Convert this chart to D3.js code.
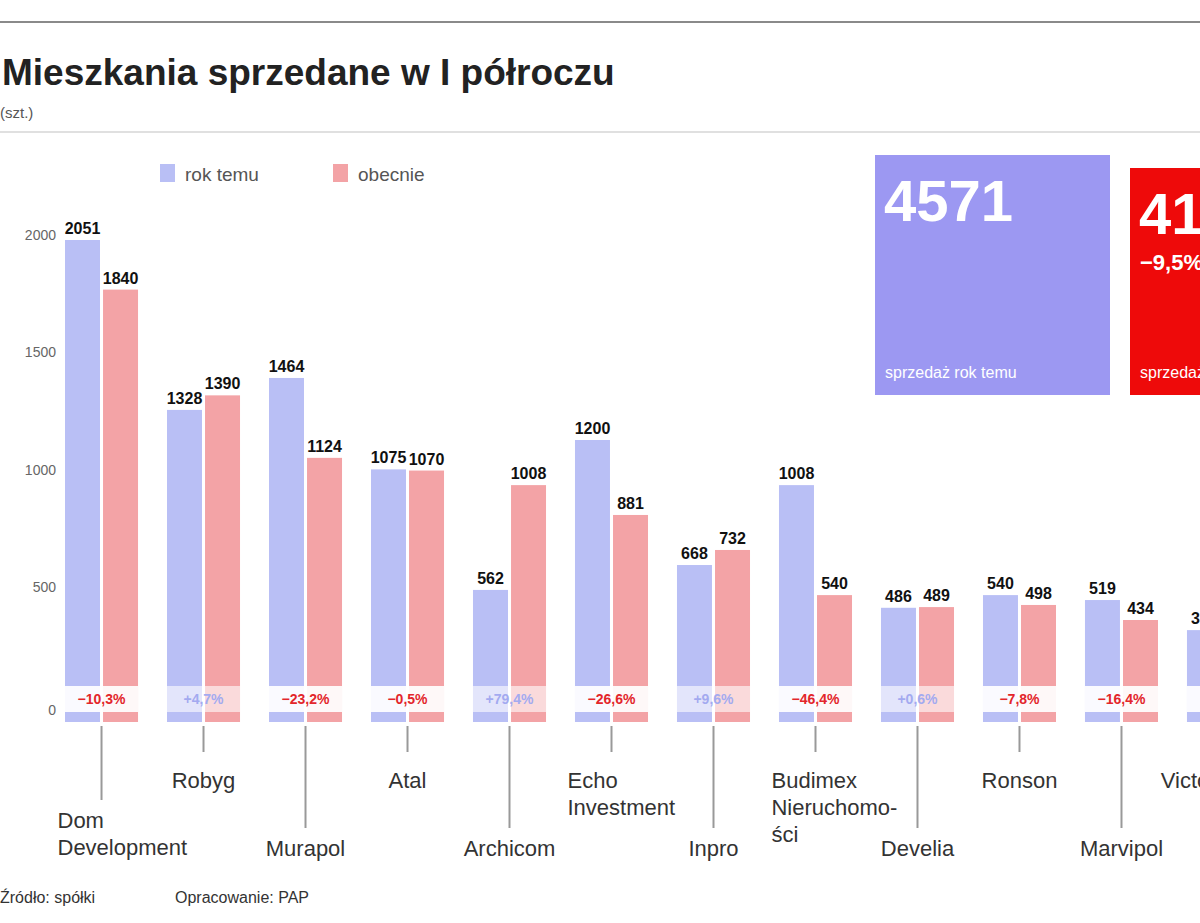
<!DOCTYPE html>
<html>
<head>
<meta charset="utf-8">
<script src="https://cdn.jsdelivr.net/npm/d3@7"></script>
<style>
  body { margin: 0; background: #fff; }
  svg { display: block; font-family: "Liberation Sans", Arial, sans-serif; }
</style>
</head>
<body>
<div id="chart-area"></div>
<script>
// developers, in the order shown (the last one is cut off by the picture edge)
const companies = [
  ["Dom", "Development"], ["Robyg"], ["Murapol"], ["Atal"], ["Archicom"],
  ["Echo", "Investment"], ["Inpro"], ["Budimex", "Nieruchomo-", "ści"],
  ["Develia"], ["Ronson"], ["Marvipol"], ["Victoria Dom"]
]
const names = companies.map(d => d.join(" "))

const seriesNames = ["rok temu", "obecnie"]
const prevYear = [2051, 1328, 1464, 1075, 562, 1200, 668, 1008, 486, 540, 519, 391]
const currYear = [1840, 1390, 1124, 1070, 1008, 881, 732, 540, 489, 498, 434, 380]

const yTicks = [0, 500, 1000, 1500, 2000]

const totals = [4571, 4138]
const totalLabels = ["sprzedaż rok temu", "sprzedaż obecnie"]

const WIDTH = 1200
const HEIGHT = 923
const BASE = 722
const COLORS = ["#b9bff5", "#f3a3a6"]

const svg = d3.select("#chart-area").append("svg")
  .attr("width", WIDTH)
  .attr("height", HEIGHT)

// header
svg.append("line")
  .attr("x1", 0).attr("x2", WIDTH).attr("y1", 22).attr("y2", 22)
  .attr("stroke", "#8a8a8a").attr("stroke-width", 2)

svg.append("text")
  .attr("x", 2).attr("y", 85)
  .attr("font-size", "37px").attr("font-weight", "bold").attr("fill", "#222")
  .text("Mieszkania sprzedane w I półroczu")

svg.append("text")
  .attr("x", 0).attr("y", 118)
  .attr("font-size", "15px").attr("fill", "#555")
  .text("(szt.)")

svg.append("line")
  .attr("x1", 0).attr("x2", WIDTH).attr("y1", 132).attr("y2", 132)
  .attr("stroke", "#d6d6d6").attr("stroke-width", 1.5)

// legend
const legend = svg.append("g")
seriesNames.forEach((s, i) => {
  const lx = [160, 333][i]
  legend.append("rect")
    .attr("x", lx).attr("y", 164).attr("width", 15).attr("height", 18)
    .attr("fill", COLORS[i])
  legend.append("text")
    .attr("x", lx + 25).attr("y", 181)
    .attr("font-size", "19px").attr("fill", "#555")
    .text(s)
})

// scales
const x = d3.scaleBand()
  .domain(names)
  .range([65, 1260])
  .paddingInner(0.284)
  .paddingOuter(0)

const x1 = d3.scaleBand()
  .domain(seriesNames)
  .range([0, x.bandwidth()])
  .paddingInner(0.08)

const y = d3.scaleLinear()
  .domain([0, 2000])
  .range([BASE, 252])

// grid + y labels
const yAxis = d3.axisLeft(y)
  .tickValues(yTicks)
  .tickSize(-WIDTH)
  .tickFormat(d => d)

const yAxisGroup = svg.append("g")
  .attr("transform", "translate(1200, 0)")
  .call(yAxis)
yAxisGroup.select(".domain").remove()
yAxisGroup.selectAll(".tick line")
  .attr("stroke", d => d === 0 ? "#aaa" : "#e0e0e0")
  .attr("stroke-width", 1.5)
yAxisGroup.selectAll(".tick text")
  .attr("x", -1200 + 56)
  .attr("dy", d => d === 0 ? "-0.55em" : "-0.9em")
  .attr("font-size", "14px")
  .attr("fill", "#666")

// bars
const rows = names.map((n, i) => ({ name: n, lines: companies[i], values: [prevYear[i], currYear[i]] }))

const groups = svg.append("g").selectAll("g")
  .data(rows)
  .enter().append("g")
  .attr("transform", d => `translate(${x(d.name)}, 0)`)

groups.selectAll("rect")
  .data(d => d.values.map((v, i) => ({ key: seriesNames[i], value: v, i })))
  .enter().append("rect")
  .attr("x", d => x1(d.key))
  .attr("y", d => y(d.value))
  .attr("width", x1.bandwidth())
  .attr("height", d => BASE - y(d.value))
  .attr("fill", d => COLORS[d.i])

groups.selectAll(".val")
  .data(d => d.values.map((v, i) => ({ key: seriesNames[i], value: v })))
  .enter().append("text")
  .attr("class", "val")
  .attr("x", d => x1(d.key) + x1.bandwidth() / 2)
  .attr("y", d => y(d.value) - 6)
  .attr("text-anchor", "middle")
  .attr("font-size", "16px")
  .attr("font-weight", "bold")
  .attr("fill", "#111")
  .attr("stroke", "#fff")
  .attr("stroke-width", 3)
  .attr("paint-order", "stroke")
  .text(d => d.value)

// change boxes at bottom of the bars
const fmtPct = v => (v > 0 ? "+" : "") + d3.format(".1f")(v).replace(".", ",") + "%"
groups.each(function (d) {
  const g = d3.select(this)
  const pct = (d.values[1] - d.values[0]) / d.values[0] * 100
  const down = pct < 0
  g.append("rect")
    .attr("x", 0).attr("y", BASE - 36)
    .attr("width", x.bandwidth()).attr("height", 26)
    .attr("fill", "#fff").attr("fill-opacity", down ? 0.92 : 0.6)
  g.append("text")
    .attr("x", x.bandwidth() / 2).attr("y", BASE - 18)
    .attr("text-anchor", "middle")
    .attr("font-size", "14px").attr("font-weight", "bold")
    .attr("fill", down ? "#e3262b" : "#a3aaf0")
    .text(fmtPct(pct))
})

// category labels with leader lines
rows.forEach((d, i) => {
  const cx = x(d.name) + x.bandwidth() / 2
  const low = i % 2 === 0
  const multi = d.lines.length > 1
  const firstY = low ? 856 - (d.lines.length - 1) * 28 : 788
  const lineEnd = low ? firstY - 28 : 752
  svg.append("line")
    .attr("x1", cx).attr("x2", cx)
    .attr("y1", BASE + 4).attr("y2", lineEnd)
    .attr("stroke", "#999").attr("stroke-width", 2)
  const t = svg.append("text")
    .attr("x", multi ? cx - 44 : cx)
    .attr("y", firstY)
    .attr("text-anchor", multi ? "start" : "middle")
    .attr("font-size", "22px")
    .attr("fill", "#333")
  d.lines.forEach((l, j) => {
    t.append("tspan")
      .attr("x", multi ? cx - 44 : cx)
      .attr("dy", j === 0 ? 0 : 27)
      .text(l)
  })
})

// totals boxes
const boxes = [
  { x: 875, y: 155, w: 235, h: 240, fill: "#9c98f2" },
  { x: 1130, y: 168, w: 110, h: 227, fill: "#ee0a0a" }
]
boxes.forEach((b, i) => {
  svg.append("rect")
    .attr("x", b.x).attr("y", b.y).attr("width", b.w).attr("height", b.h)
    .attr("fill", b.fill)
  svg.append("text")
    .attr("x", b.x + 9).attr("y", b.y + 66)
    .attr("font-size", "58px").attr("font-weight", "bold").attr("fill", "#fff")
    .text(totals[i])
  svg.append("text")
    .attr("x", b.x + 10).attr("y", 378)
    .attr("font-size", "16px").attr("fill", "#fff")
    .text(totalLabels[i])
})
svg.append("text")
  .attr("x", 1140).attr("y", 270)
  .attr("font-size", "22px").attr("font-weight", "bold").attr("fill", "#fff")
  .text(fmtPct((totals[1] - totals[0]) / totals[0] * 100))

// footer
svg.append("text")
  .attr("x", 0).attr("y", 903)
  .attr("font-size", "16px").attr("fill", "#333")
  .text("Źródło: spółki")
svg.append("text")
  .attr("x", 175).attr("y", 903)
  .attr("font-size", "16px").attr("fill", "#333")
  .text("Opracowanie: PAP")
</script>
</body>
</html>
